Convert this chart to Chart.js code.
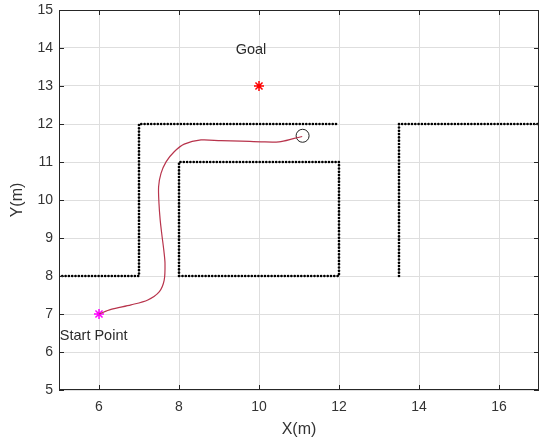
<!DOCTYPE html>
<html lang="en">
<head>
    <meta charset="UTF-8">
    <title>Path planning</title>
    <script src="https://cdn.jsdelivr.net/npm/chart.js"></script>
    <style>
        html, body { margin: 0; padding: 0; background: #fff; overflow: hidden; }
        .chart-container { position: relative; width: 539px; height: 441px; }
    </style>
</head>
<body>
    <div class="chart-container">
        <canvas id="path-chart"></canvas>
    </div>

    <script>
        // axis ticks
        const xTicks = [6, 8, 10, 12, 14, 16];
        const yTicks = [5, 6, 7, 8, 9, 10, 11, 12, 13, 14, 15];

        // obstacle walls (corner points of each dotted polyline)
        const wallLeftX = [5, 7, 7, 12];
        const wallLeftY = [8, 8, 12, 12];
        const wallBoxX = [8, 8, 12, 12, 8];
        const wallBoxY = [8, 11, 11, 8, 8];
        const wallRightX = [13.5, 13.5, 17];
        const wallRightY = [8, 12, 12];

        // planned trajectory
        const pathX = [6.0, 6.3, 6.8, 7.22, 7.51, 7.63, 7.65, 7.62, 7.57, 7.53, 7.5, 7.49, 7.55, 7.68, 7.88, 8.13, 8.55, 9.05, 9.55, 10.05, 10.5, 10.88, 11.08];
        const pathY = [7.0, 7.12, 7.24, 7.37, 7.59, 7.89, 8.33, 8.68, 9.1, 9.47, 9.9, 10.35, 10.7, 11.01, 11.27, 11.47, 11.58, 11.56, 11.55, 11.53, 11.53, 11.62, 11.67];

        // markers
        const startPoint = [6, 7];
        const goalPoint = [10, 13];
        const robotPoint = [11.09, 11.69];

        // text labels
        const labelText = ['Goal', 'Start Point'];
        const labelX = [9.8, 5.02];
        const labelY = [13.95, 6.42];
        const labelAlign = ['center', 'left'];

        const FONT = '"Liberation Sans", Arial, sans-serif';
        const toPoints = (xs, ys) => xs.map((x, i) => ({x: x, y: ys[i]}));

        const wallStyle = {
            showLine: true,
            borderColor: '#000',
            borderWidth: 2.7,
            borderDash: [0, 3.3],
            borderCapStyle: 'round',
            pointRadius: 0,
            fill: false
        };

        // box, inward tick marks and text labels
        const decorPlugin = {
            id: 'decor',
            afterDraw(chart) {
                const ctx = chart.ctx;
                const a = chart.chartArea;
                const xs = chart.scales.x, ys = chart.scales.y;
                ctx.save();
                ctx.strokeStyle = '#262626';
                ctx.lineWidth = 1;
                ctx.beginPath();
                xTicks.forEach(v => {
                    const px = Math.round(xs.getPixelForValue(v)) + 0.5;
                    ctx.moveTo(px, a.bottom); ctx.lineTo(px, a.bottom - 5);
                    ctx.moveTo(px, a.top); ctx.lineTo(px, a.top + 5);
                });
                yTicks.forEach(v => {
                    const py = Math.round(ys.getPixelForValue(v)) + 0.5;
                    ctx.moveTo(a.left, py); ctx.lineTo(a.left + 5, py);
                    ctx.moveTo(a.right, py); ctx.lineTo(a.right - 5, py);
                });
                ctx.stroke();
                ctx.strokeRect(a.left + 0.5, a.top + 0.5, a.right - a.left - 1, a.bottom - a.top - 1);

                ctx.fillStyle = '#2b2b2b';
                ctx.font = '14.5px ' + FONT;
                ctx.textBaseline = 'middle';
                labelText.forEach((t, i) => {
                    ctx.textAlign = labelAlign[i];
                    ctx.fillText(t, xs.getPixelForValue(labelX[i]), ys.getPixelForValue(labelY[i]));
                });
                ctx.restore();
            }
        };

        const ctx1 = document.getElementById('path-chart').getContext('2d');
        new Chart(ctx1, {
            type: 'scatter',
            data: {
                datasets: [
                    Object.assign({data: toPoints(wallLeftX, wallLeftY)}, wallStyle),
                    Object.assign({data: toPoints(wallBoxX, wallBoxY)}, wallStyle),
                    Object.assign({data: toPoints(wallRightX, wallRightY)}, wallStyle),
                    {
                        data: toPoints(pathX, pathY),
                        showLine: true,
                        borderColor: '#b8344c',
                        borderWidth: 1.2,
                        tension: 0.3,
                        pointRadius: 0
                    },
                    {
                        data: [{x: startPoint[0], y: startPoint[1]}],
                        pointStyle: 'star',
                        pointRadius: 5,
                        borderColor: '#ff00ff',
                        borderWidth: 1.5
                    },
                    {
                        data: [{x: goalPoint[0], y: goalPoint[1]}],
                        pointStyle: 'star',
                        pointRadius: 5,
                        borderColor: '#ff0000',
                        borderWidth: 1.5
                    },
                    {
                        data: [{x: robotPoint[0], y: robotPoint[1]}],
                        pointStyle: 'circle',
                        pointRadius: 6.5,
                        borderColor: '#222',
                        backgroundColor: 'rgba(0,0,0,0)',
                        borderWidth: 1
                    }
                ]
            },
            options: {
                responsive: true,
                maintainAspectRatio: false,
                animation: false,
                // no extra room for point overflow, the plot runs to the right edge
                layout: { autoPadding: false, padding: { top: 10, right: 0, left: 0, bottom: 0 } },
                plugins: {
                    legend: { display: false },
                    tooltip: { enabled: false }
                },
                scales: {
                    x: {
                        type: 'linear',
                        min: 5,
                        max: 17,
                        afterBuildTicks: s => { s.ticks = xTicks.map(v => ({value: v})); },
                        afterFit: s => { s.height = 51; s.paddingLeft = 0; s.paddingRight = 0; },
                        grid: { color: '#dedede', drawTicks: false },
                        border: { display: false },
                        ticks: {
                            padding: 9,
                            maxRotation: 0,
                            color: '#333',
                            font: { family: FONT, size: 14 }
                        },
                        title: {
                            display: true,
                            text: 'X(m)',
                            color: '#333',
                            padding: { top: 0, bottom: 2 },
                            font: { family: FONT, size: 16 }
                        }
                    },
                    y: {
                        type: 'linear',
                        min: 5,
                        max: 15,
                        afterBuildTicks: s => { s.ticks = yTicks.map(v => ({value: v})); },
                        afterFit: s => { s.width = 59; s.paddingTop = 0; s.paddingBottom = 0; },
                        grid: { color: '#dedede', drawTicks: false },
                        border: { display: false },
                        ticks: {
                            padding: 6,
                            color: '#333',
                            font: { family: FONT, size: 14 }
                        },
                        title: {
                            display: true,
                            text: 'Y(m)',
                            color: '#333',
                            padding: { top: 8, bottom: 0 },
                            font: { family: FONT, size: 16 }
                        }
                    }
                }
            },
            plugins: [decorPlugin]
        });
    </script>
</body>
</html>
